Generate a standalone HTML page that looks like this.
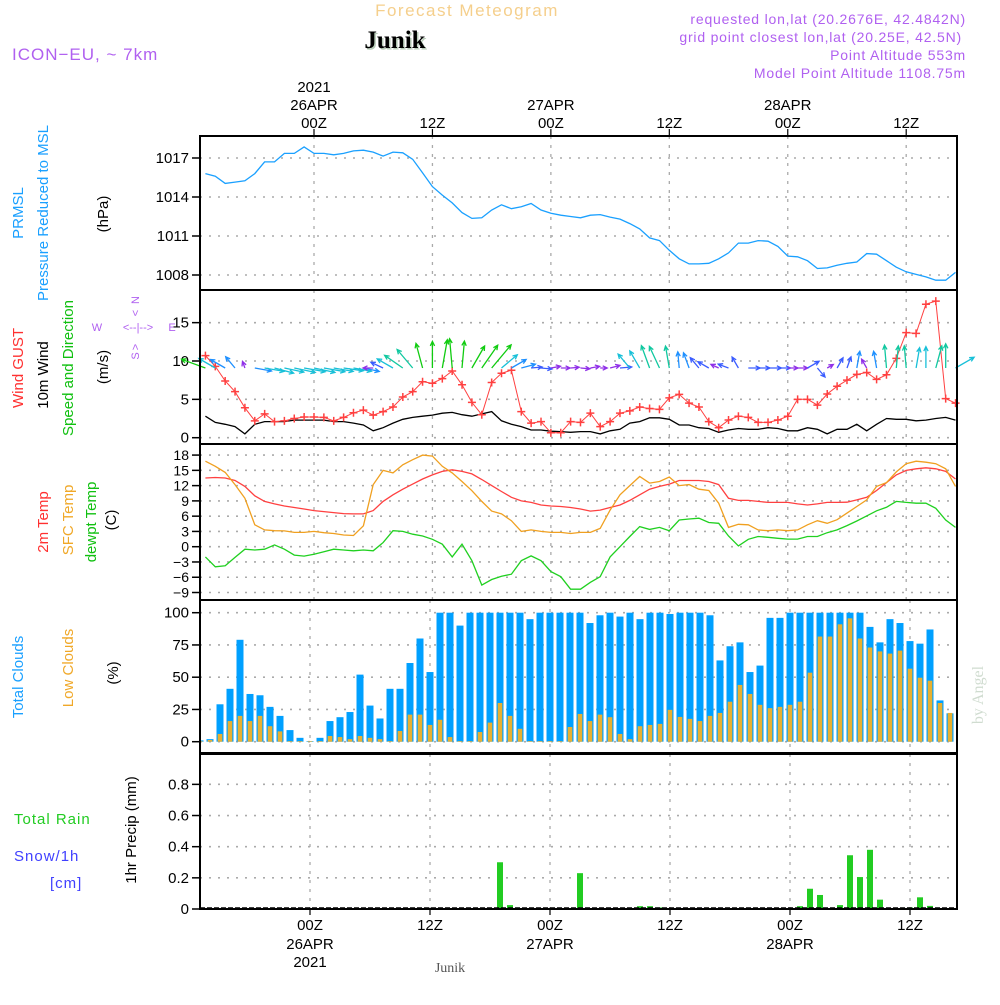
<!DOCTYPE html>
<html><head><meta charset="utf-8"><style>
html,body{margin:0;padding:0;background:#fff;}
svg text{font-family:"Liberation Sans",sans-serif;}
</style></head><body>
<svg id="chart" xmlns="http://www.w3.org/2000/svg" width="1000" height="1000" viewBox="0 0 1000 1000">
<g id="header">
<text x="467" y="16" text-anchor="middle" font-size="17" fill="#f5cf8c" letter-spacing="1.5">Forecast Meteogram</text>
<text x="395" y="48" text-anchor="middle" font-size="25" font-weight="bold" fill="#b8ccb8" style="font-family:'Liberation Serif',serif" transform="translate(1.5,1.5)">Junik</text>
<text x="395" y="48" text-anchor="middle" font-size="25" font-weight="bold" fill="#000" style="font-family:'Liberation Serif',serif">Junik</text>
<text x="12" y="60" font-size="17" fill="#b060f0" letter-spacing="1">ICON−EU, ~ 7km</text>
<g font-size="14" fill="#b060f0" text-anchor="end" letter-spacing="0.8">
<text x="966" y="24">requested lon,lat (20.2676E, 42.4842N)</text>
<text x="962" y="42">grid point closest lon,lat (20.25E, 42.5N)</text>
<text x="966" y="60">Point Altitude 553m</text>
<text x="966" y="78">Model Point Altitude 1108.75m</text>
</g>
</g>
<g id="leftlabels" font-size="15">
<text transform="translate(23,213) rotate(-90)" text-anchor="middle" fill="#1aa0ff">PRMSL</text>
<text transform="translate(48,213) rotate(-90)" text-anchor="middle" fill="#1aa0ff">Pressure Reduced to MSL</text>
<text transform="translate(108,214) rotate(-90)" text-anchor="middle" fill="#000">(hPa)</text>
<text transform="translate(23,368) rotate(-90)" text-anchor="middle" fill="#ff3030">Wind GUST</text>
<text transform="translate(48,375) rotate(-90)" text-anchor="middle" fill="#000">10m Wind</text>
<text transform="translate(73,368) rotate(-90)" text-anchor="middle" fill="#10c010">Speed and Direction</text>
<text transform="translate(108,367) rotate(-90)" text-anchor="middle" fill="#000">(m/s)</text>
<g font-size="11" fill="#b060f0" text-anchor="middle">
<text x="97" y="331">W</text><text x="138" y="331">&lt;--|--&gt;</text><text x="172" y="331">E</text>
<text transform="translate(139,300) rotate(-90)">N</text><text transform="translate(139,313) rotate(-90)">&lt;</text>
<text transform="translate(139,347) rotate(-90)">&gt;</text><text transform="translate(139,356) rotate(-90)">S</text>
</g>
<text transform="translate(48,522) rotate(-90)" text-anchor="middle" fill="#ff3030">2m Temp</text>
<text transform="translate(73,520) rotate(-90)" text-anchor="middle" fill="#f0a828">SFC Temp</text>
<text transform="translate(96,522) rotate(-90)" text-anchor="middle" fill="#10c010">dewpt Temp</text>
<text transform="translate(116,520) rotate(-90)" text-anchor="middle" fill="#000">(C)</text>
<text transform="translate(23,677) rotate(-90)" text-anchor="middle" fill="#1aa0ff">Total Clouds</text>
<text transform="translate(73,668) rotate(-90)" text-anchor="middle" fill="#f0a828">Low Clouds</text>
<text transform="translate(118,673) rotate(-90)" text-anchor="middle" fill="#000">(%)</text>
<text transform="translate(136,830) rotate(-90)" text-anchor="middle" fill="#000">1hr Precip (mm)</text>
<text x="14" y="824" fill="#22cc22" letter-spacing="1">Total  Rain</text>
<text x="14" y="861" fill="#4040ff" letter-spacing="1">Snow/1h</text>
<text x="50" y="888" fill="#4040ff" letter-spacing="1">[cm]</text>
</g>
<text transform="translate(983,695) rotate(-90)" text-anchor="middle" font-size="16" fill="#d0dcd0" style="font-family:'Liberation Serif',serif">by Angel</text>
<text x="450" y="972" text-anchor="middle" font-size="14" fill="#555" style="font-family:'Liberation Serif',serif">Junik</text>
<g id="plot"></g>
</svg>
<script>
const hours = [];
for (let h = -11; h <= 65; h++) hours.push(h);
const pressure = [1015.8,1015.6,1015.05,1015.15,1015.25,1015.8,1016.7,1016.7,1017.35,1017.35,1017.85,1017.35,1017.35,1017.25,1017.35,1017.55,1017.6,1017.45,1017.15,1017.45,1017.4,1016.9,1015.85,1014.8,1014.15,1013.55,1012.8,1012.35,1012.4,1013.0,1013.4,1013.1,1013.25,1013.5,1013.0,1012.75,1012.6,1012.5,1012.4,1012.6,1012.65,1012.45,1012.3,1011.95,1011.55,1010.85,1010.65,1009.9,1009.25,1008.85,1008.85,1008.9,1009.25,1009.7,1010.45,1010.45,1010.65,1010.6,1010.2,1009.45,1009.4,1009.1,1008.5,1008.55,1008.75,1008.9,1009.0,1009.65,1009.6,1009.1,1008.6,1008.25,1008.05,1007.85,1007.6,1007.6,1008.2];
const gust = [10.7,9.3,7.4,6.0,3.9,2.2,3.1,2.1,2.2,2.5,2.7,2.7,2.65,2.2,2.65,3.25,3.6,2.95,3.4,4.0,5.3,6.0,7.3,7.1,7.7,8.7,6.9,4.6,3.0,7.2,8.4,8.8,3.4,1.9,2.1,0.65,0.65,2.1,2.0,3.2,1.45,2.1,3.2,3.5,4.0,3.8,3.7,5.2,5.65,4.5,4.0,2.1,1.3,2.3,2.8,2.65,2.0,2.0,2.3,2.8,5.0,5.0,4.25,5.7,6.7,7.5,8.25,8.5,7.6,8.2,10.35,13.7,13.6,17.4,17.8,5.1,4.5];
const windSpeed = [2.8,2.0,1.75,1.45,0.5,1.75,2.1,2.1,2.1,2.3,2.3,2.3,2.3,2.1,2.1,1.9,1.65,0.9,1.3,1.9,2.4,2.65,2.8,2.95,3.2,3.3,3.0,2.8,3.1,3.4,2.2,1.75,1.45,1.0,1.0,0.85,0.8,0.7,0.8,0.8,0.5,0.9,1.1,1.9,2.1,2.6,2.6,2.4,1.65,1.65,1.3,1.2,0.7,1.0,1.2,1.1,1.1,1.3,1.2,0.9,0.9,1.3,1.1,0.5,1.1,1.1,1.75,0.9,1.75,2.5,2.4,2.4,2.2,2.3,2.5,2.65,2.3];
const windDir = [160,150,150,130,110,-10,-10,-15,-12,-12,-10,-12,-10,-10,-8,-10,-12,180,155,150,145,130,105,90,80,95,85,60,55,50,40,30,15,5,-5,10,0,5,-5,10,0,15,5,130,120,110,115,100,95,110,130,150,155,160,120,0,0,0,0,0,0,30,-50,30,60,70,80,120,100,95,85,95,80,90,75,90,30];
const temp2m = [13.5,13.6,13.5,13.0,11.85,10.0,8.9,8.4,8.0,7.7,7.4,7.1,6.9,6.7,6.5,6.45,6.45,7.1,8.9,10.2,11.3,12.3,13.3,14.1,14.8,15.1,14.8,14.3,13.2,12.0,10.85,9.7,9.0,8.7,8.2,8.0,7.9,7.7,7.4,7.0,7.2,7.7,8.2,9.1,10.2,11.3,11.85,12.3,13.0,13.0,13.0,12.8,12.2,9.5,9.1,9.1,8.9,8.7,8.7,8.7,8.4,8.2,8.4,8.7,8.7,8.75,9.2,9.7,11.05,12.6,14.1,15.0,15.3,15.5,15.3,14.8,13.3];
const sfcTemp = [16.8,15.8,14.6,12.2,9.5,4.3,3.3,3.15,3.1,2.8,2.8,3.0,2.75,2.6,2.3,2.2,4.1,12.2,15.0,14.5,16.1,17.1,18.0,17.8,15.8,14.5,12.8,11.0,8.9,7.0,6.45,5.1,3.0,3.3,3.0,2.8,2.8,2.6,2.8,2.8,3.6,7.2,10.2,12.0,13.8,12.5,12.8,13.7,12.0,12.2,11.3,11.05,8.55,3.8,4.4,4.3,3.3,3.15,3.3,3.15,3.3,4.3,5.1,4.6,5.3,6.6,7.9,9.2,11.85,12.6,14.7,16.3,16.8,16.6,16.3,15.3,11.85];
const dewpoint = [-2.0,-3.95,-3.75,-2.1,-0.5,-0.65,-0.5,0.35,-0.5,-1.65,-1.85,-1.5,-1.0,-0.5,-0.65,-0.8,-0.65,-0.8,0.8,3.15,3.0,2.45,2.1,1.45,0.5,-2.0,0.5,-2.75,-7.55,-6.45,-5.8,-5.4,-2.75,-1.8,-2.75,-4.9,-5.9,-8.35,-8.35,-7.0,-5.9,-2.0,0.0,2.0,3.95,3.4,3.8,3.15,5.25,5.45,5.6,4.75,4.6,2.1,0.15,1.45,2.0,1.85,1.65,1.5,1.5,2.0,2.0,2.75,3.3,4.15,5.05,6.05,7.05,7.75,8.9,8.7,8.55,8.55,7.55,5.25,3.8];
const totalClouds = [1,2,29,41,79,37,36,27,20,9,3,0.5,3,16,19,23,52,28,18,41,41,61,80,54,100,100,90,100,100,100,100,100,100,95,100,100,100,100,100,92,98,100,97,100,95,100,100,99,100,100,100,98,63,74,77,54,59,96,96,100,100,100,100,100,100,100,100,89,77,95,92,78,76,87,32,22,10];
const lowClouds = [0.5,1.3,6,16,20,16,20,12,8,0.5,0.5,0.5,0.5,4.4,3.6,2,4.4,3,2,0.5,8.3,21,21,13,17,3.6,0.5,0.5,7.5,14.8,30,20,10,0.5,0.5,0.5,0.5,11.4,21.5,16,21,19,6,2,12,13,13.8,24.7,19.2,17.7,16,20,22.3,31,44,37,28.6,26,27,28.6,31,53.5,81.5,81.5,91,95.6,80,73,70,68.3,70.6,56.6,49.6,47.3,30,22.3,10];
const precipHours = [19,20,27,33,34,35,49,50,51,53,54,55,56,57,60,61,62];
const precipValues = [0.30,0.025,0.23,0.018,0.018,0.01,0.018,0.13,0.09,0.025,0.345,0.205,0.38,0.06,0.01,0.075,0.02];
const pressureTicks = [1008,1011,1014,1017];
const windTicks = [0,5,10,15];
const tempTicks = [-9,-6,-3,0,3,6,9,12,15,18];
const cloudTicks = [0,25,50,75,100];
const precipTicks = [0,0.2,0.4,0.6,0.8];
const topTimeLabels = [[0,'00Z','26APR','2021'],[12,'12Z','',''],[24,'00Z','27APR',''],[36,'12Z','',''],[48,'00Z','28APR',''],[60,'12Z','','']];

const NS='http://www.w3.org/2000/svg';
const plot=document.getElementById('plot');
function mk(tag,attrs,parent){const e=document.createElementNS(NS,tag);for(const k in attrs)e.setAttribute(k,attrs[k]);(parent||plot).appendChild(e);return e;}
const L=200,R=957;
const xTop=h=>314+h*9.87;
const xBot=h=>310+h*10;
const panels={
 p:{t:136,b:290,y:v=>158+(1017-v)*13},
 w:{t:290,b:444,y:v=>437.7-v*7.67},
 t:{t:444,b:600,y:v=>546.7-v*5.09},
 c:{t:600,b:753,y:v=>741.7-v*1.29},
 r:{t:754,b:909,y:v=>909-v*155.8}
};
function grid(pn,ticks,fmt,xf,name){
 const P=panels[pn];
 const g=mk('g',{});
 
 
 ticks.forEach(v=>{const y=P.y(v);
  mk('line',{x1:L,x2:R,y1:y,y2:y,stroke:'#aaa','stroke-width':1.6,'stroke-dasharray':'2 7'},g);
  mk('line',{x1:L-8,x2:L,y1:y,y2:y,stroke:'#000','stroke-width':1.5},g);
  const t=mk('text',{x:L-11,y:y+5,'text-anchor':'end','font-size':pn==='t'?14:15,fill:'#000'},g);
  t.textContent=fmt(v);
  
  
 });
 for(let h=0;h<=60;h+=12){const x=xf(h);
  mk('line',{x1:x,x2:x,y1:P.t,y2:P.b,stroke:'#aaa','stroke-width':1.3,'stroke-dasharray':'3 6'},g);}
}
grid('p',pressureTicks,v=>String(v),xTop,'pressure');
grid('w',windTicks,v=>String(v),xTop,'wind');
grid('t',tempTicks,v=>(v<0?'−'+(-v):String(v)),xTop,'temp');
grid('c',cloudTicks,v=>String(v),xBot,'cloud');
grid('r',precipTicks,v=>(v===0?'0':v.toFixed(1)),xBot,'precip');

function line(arr,pn,color,name,w){
 const P=panels[pn];
 const d=arr.map((v,i)=>(i?'L':'M')+xTop(hours[i]).toFixed(1)+','+P.y(v).toFixed(1)).join('');
 const e=mk('path',{d:d,fill:'none',stroke:color,'stroke-width':w||1.3});
 
 
 return e;
}
line(pressure,'p','#1aa0ff','pressure-line');
line(windSpeed,'w','#000','wind-speed-line');
line(gust,'w','#ff4040','wind-gust-line',1);
const gm=mk('g',{stroke:'#ff4040','stroke-width':1.5});


gust.forEach((v,i)=>{const x=xTop(hours[i]),y=panels.w.y(v);
 mk('path',{d:`M${x-4},${y}H${x+4}M${x},${y-4}V${y+4}`},gm);});
// wind arrows
function wcol(s){return s>=2.8?'#10cc10':s>=2.4?'#10c8a0':s>=1.9?'#18c0d8':s>=1.4?'#1e90ff':s>=1.0?'#3a5cff':'#9030e8';}
const ag=mk('g',{});


windSpeed.forEach((s,i)=>{const x0=xTop(hours[i]),y0=368;
 const len=8*s+3,a=windDir[i]*Math.PI/180;
 const x1=x0+len*Math.cos(a),y1=y0-len*Math.sin(a);
 const hl=5,b1=a+Math.PI-0.45,b2=a+Math.PI+0.45;
 const c=wcol(s);
 const p=mk('path',{d:`M${x0.toFixed(1)},${y0}L${x1.toFixed(1)},${y1.toFixed(1)}M${(x1+hl*Math.cos(b1)).toFixed(1)},${(y1-hl*Math.sin(b1)).toFixed(1)}L${x1.toFixed(1)},${y1.toFixed(1)}L${(x1+hl*Math.cos(b2)).toFixed(1)},${(y1-hl*Math.sin(b2)).toFixed(1)}`,stroke:c,'stroke-width':1.3,fill:'none'},ag);
 
 
});
line(temp2m,'t','#ff4040','temp-2m-line');
line(sfcTemp,'t','#f0a020','sfc-temp-line');
line(dewpoint,'t','#20d020','dewpoint-line');
// clouds
const cg=mk('g',{});


const clip=mk('clipPath',{id:'cclip'});mk('rect',{x:L,y:600,width:R-L,height:153},clip);
cg.setAttribute('clip-path','url(#cclip)');
hours.forEach((h,i)=>{const x=xBot(h),y0=panels.c.y(0);
 const yt=panels.c.y(totalClouds[i]);
 const b=mk('rect',{x:x-3.5,y:yt,width:7,height:y0-yt,fill:'#00a0ff'},cg);
 
 
 const yl=panels.c.y(lowClouds[i]);
 const o=mk('rect',{x:x-2.3,y:yl,width:4.6,height:y0-yl,fill:'#e8b030'},cg);
 
 
});
// precip
const pg=mk('g',{});


precipHours.forEach((h,i)=>{const x=xBot(h),y0=panels.r.y(0),y=panels.r.y(precipValues[i]);
 const b=mk('rect',{x:x-3,y:y,width:6,height:y0-y,fill:'#22cc22'},pg);
 
 
});
mk('line',{x1:L,x2:R,y1:908,y2:908,stroke:'#000','stroke-width':1.5,'stroke-dasharray':'5 2'});
// frames
[['p','pressure-panel'],['w','wind-panel'],['t','temperature-panel'],['c','cloud-panel'],['r','precip-panel']].forEach(([k,n])=>{const P=panels[k];
 const f=mk('rect',{x:L,y:P.t,width:R-L,height:P.b-P.t,fill:'none',stroke:'#000','stroke-width':2});
 
 });
// time labels
const tl=mk('g',{'font-size':15,fill:'#000','text-anchor':'middle'});


topTimeLabels.forEach(([h,a,b,c])=>{const x=xTop(h);
 mk('line',{x1:x,x2:x,y1:129,y2:136,stroke:'#000','stroke-width':1.2},tl);
 mk('text',{x:x,y:128},tl).textContent=a;
 if(b)mk('text',{x:x,y:110},tl).textContent=b;
 if(c)mk('text',{x:x,y:92},tl).textContent=c;
 const xb=xBot(h);
 mk('line',{x1:xb,x2:xb,y1:909,y2:915,stroke:'#000','stroke-width':1.2},tl);
 mk('text',{x:xb,y:930},tl).textContent=a;
 if(b)mk('text',{x:xb,y:949},tl).textContent=b;
 if(c)mk('text',{x:xb,y:967},tl).textContent=c;
});
</script>
</body></html>
